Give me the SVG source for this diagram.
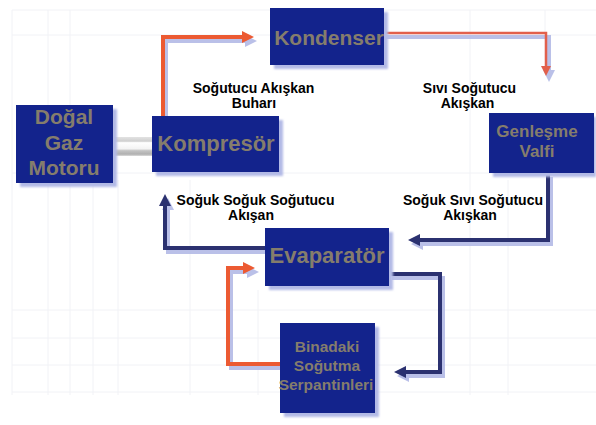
<svg xmlns="http://www.w3.org/2000/svg" width="596" height="425" viewBox="0 0 596 425">
<style>
.box{fill:#13238c}
.bsh{fill:#b3bae6;filter:url(#blur)}
.bt{font-family:"Liberation Sans",Arial,sans-serif;font-weight:bold;fill:#857d6c;text-anchor:middle}
.lbl{font-family:"Liberation Sans",Arial,sans-serif;font-weight:bold;font-size:14px;fill:#000;text-anchor:middle}
.or{fill:none;stroke:#ec5a32;stroke-width:4;stroke-linejoin:miter}
.rd{fill:none;stroke:#e2604c;stroke-width:2.5}
.nv{fill:none;stroke:#2b3170;stroke-width:4;stroke-linejoin:miter}
.sh{fill:none;stroke:#b3bae6;stroke-width:4;opacity:0.9}
.grid line{stroke:#f1f2f6;stroke-width:1}
</style>
<defs>
<filter id="blur" x="-10%" y="-10%" width="130%" height="130%"><feGaussianBlur stdDeviation="1.2"/></filter>
<marker id="aOr" markerUnits="userSpaceOnUse" markerWidth="14" markerHeight="14" refX="2" refY="6" orient="auto"><path d="M0,0 L12,6 L0,12 z" fill="#ec5a32"/></marker>
<marker id="aRd" markerUnits="userSpaceOnUse" markerWidth="14" markerHeight="14" refX="2" refY="5" orient="auto"><path d="M0,0 L10,5 L0,10 z" fill="#e2604c"/></marker>
<marker id="aNv" markerUnits="userSpaceOnUse" markerWidth="14" markerHeight="14" refX="2" refY="6" orient="auto"><path d="M0,0 L12,6 L0,12 z" fill="#2b3170"/></marker>
<marker id="aSh" markerUnits="userSpaceOnUse" markerWidth="14" markerHeight="14" refX="2" refY="6" orient="auto"><path d="M0,0 L12,6 L0,12 z" fill="#b3bae6"/></marker>
<linearGradient id="shaft" x1="0" y1="0" x2="0" y2="1">
<stop offset="0" stop-color="#e2e2e2"/><stop offset="0.22" stop-color="#cfcfcf"/><stop offset="0.3" stop-color="#ffffff"/><stop offset="0.62" stop-color="#f4f4f4"/><stop offset="0.72" stop-color="#c4c4c4"/><stop offset="0.9" stop-color="#b0b0b0"/><stop offset="1" stop-color="#dcdcdc"/>
</linearGradient>
</defs>
<rect width="596" height="425" fill="#ffffff"/>
<g class="grid">
<line x1="12" y1="10" x2="596" y2="10"/><line x1="12" y1="35" x2="596" y2="35"/><line x1="12" y1="173" x2="596" y2="173"/>
<line x1="12" y1="310" x2="596" y2="310"/><line x1="12" y1="338" x2="596" y2="338"/><line x1="12" y1="365" x2="596" y2="365"/><line x1="12" y1="392" x2="596" y2="392"/>
<line x1="12" y1="10" x2="12" y2="395"/><line x1="48" y1="10" x2="48" y2="395"/><line x1="70" y1="10" x2="70" y2="395"/><line x1="93" y1="180" x2="93" y2="395"/><line x1="118" y1="180" x2="118" y2="395"/><line x1="190" y1="180" x2="190" y2="395"/><line x1="258" y1="290" x2="258" y2="395"/><line x1="470" y1="10" x2="470" y2="395"/><line x1="508" y1="180" x2="508" y2="395"/><line x1="545" y1="10" x2="545" y2="60"/>
</g>
<g id="shaft-link"><rect x="113" y="137" width="40" height="19" fill="url(#shaft)"/></g>
<g id="connectors">
<path class="sh" d="M166,120 V41 H247" marker-end="url(#aSh)"/>
<path class="or" d="M163,116 V37 H244" marker-end="url(#aOr)"/>
<path class="sh" d="M384,37 H549 V72" stroke-width="2.5" marker-end="url(#aSh)"/>
<path class="rd" d="M384,33 H546 V68" marker-end="url(#aRd)"/>
<path class="sh" d="M551,177 V244 H421" marker-end="url(#aSh)"/>
<path class="nv" d="M548,173 V240 H418" marker-end="url(#aNv)"/>
<path class="sh" d="M265,252 H168 V208" marker-end="url(#aSh)"/>
<path class="nv" d="M265,248 H165 V204" marker-end="url(#aNv)"/>
<path class="sh" d="M392,278 H443 V376 H407" marker-end="url(#aSh)"/>
<path class="nv" d="M389,274 H440 V372 H404" marker-end="url(#aNv)"/>
<path class="sh" d="M283,368 H231 V272 H249" marker-end="url(#aSh)"/>
<path class="or" d="M280,364 H228 V268 H245" marker-end="url(#aOr)"/>
</g>
<g id="dogal-gaz-motoru">
<rect class="bsh" x="20" y="109" width="97" height="78"/>
<rect class="box" x="16" y="105" width="97" height="78"/>
<text class="bt" font-size="21" x="64" y="124">Doğal</text>
<text class="bt" font-size="21" x="64" y="150">Gaz</text>
<text class="bt" font-size="21" x="64" y="175">Motoru</text>
</g>
<g id="kompresor">
<rect class="bsh" x="156" y="120" width="127" height="56"/>
<rect class="box" x="152" y="116" width="127" height="56"/>
<text class="bt" font-size="22" x="216" y="151">Kompresör</text>
</g>
<g id="kondenser">
<rect class="bsh" x="274" y="12" width="114" height="57"/>
<rect class="box" x="270" y="8" width="114" height="57"/>
<text class="bt" font-size="21" x="329" y="45">Kondenser</text>
</g>
<g id="genlesme-valfi">
<rect class="bsh" x="493" y="117" width="103" height="60"/>
<rect class="box" x="489" y="113" width="105" height="60"/>
<text class="bt" font-size="17" x="537" y="137">Genleşme</text>
<text class="bt" font-size="17" x="537" y="157">Valfi</text>
</g>
<g id="evaparator">
<rect class="bsh" x="269" y="232" width="124" height="58"/>
<rect class="box" x="265" y="228" width="124" height="58"/>
<text class="bt" font-size="22" x="327" y="263">Evaparatör</text>
</g>
<g id="binadaki">
<rect class="bsh" x="284" y="327" width="95" height="90"/>
<rect class="box" x="280" y="323" width="95" height="90"/>
<text class="bt" font-size="15.5" x="327" y="352">Binadaki</text>
<text class="bt" font-size="15.5" x="327" y="371">Soğutma</text>
<text class="bt" font-size="15.5" x="326" y="390">Serpantinleri</text>
</g>
<g id="labels">
<text class="lbl" x="253.5" y="93">Soğutucu Akışkan</text>
<text class="lbl" x="254" y="108">Buharı</text>
<text class="lbl" x="469.5" y="93">Sıvı Soğutucu</text>
<text class="lbl" x="467.5" y="108">Akışkan</text>
<text class="lbl" x="255.5" y="205">Soğuk Soğuk Soğutucu</text>
<text class="lbl" x="251" y="220">Akışan</text>
<text class="lbl" x="473" y="205">Soğuk Sıvı Soğutucu</text>
<text class="lbl" x="470" y="220">Akışkan</text>
</g>
</svg>
